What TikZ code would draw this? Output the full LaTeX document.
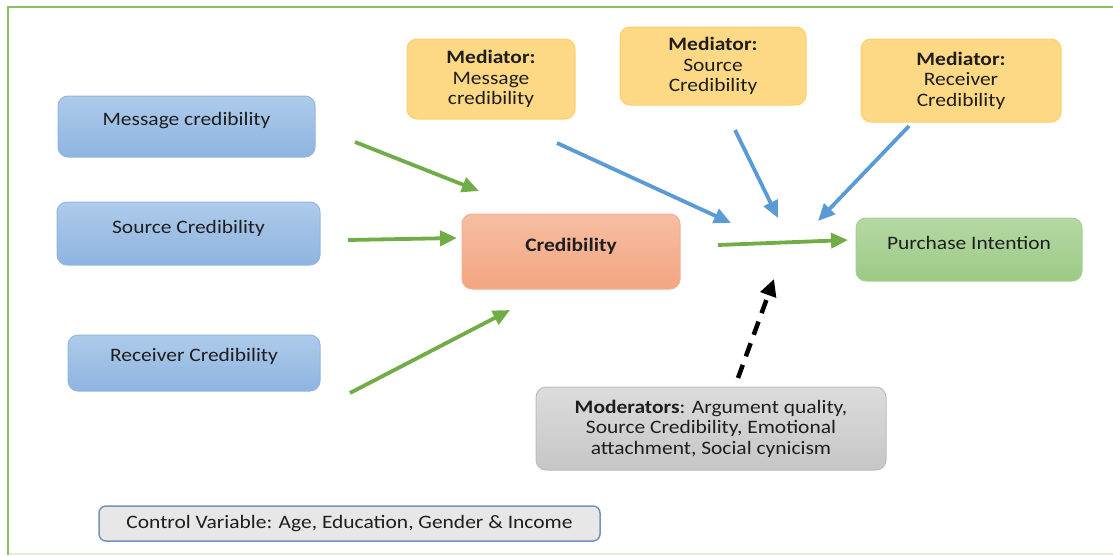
\documentclass[tikz,border=0pt]{standalone}
\usepackage{fontspec}
\setmainfont[FakeStretch=1.13]{Carlito}
\usetikzlibrary{arrows.meta}
\definecolor{frameGreen}{HTML}{8CC068}
\definecolor{frameFaint}{HTML}{E2EFDA}
\definecolor{blueTop}{HTML}{AECBEA}
\definecolor{blueBot}{HTML}{8EB4E0}
\definecolor{blueEdge}{HTML}{94B6DE}
\definecolor{orangeFill}{HTML}{FED985}
\definecolor{orangeEdge}{HTML}{FCCF6A}
\definecolor{salmonTop}{HTML}{F5BEA3}
\definecolor{salmonBot}{HTML}{F4A580}
\definecolor{salmonEdge}{HTML}{F2B091}
\definecolor{greenTop}{HTML}{B5D8A4}
\definecolor{greenBot}{HTML}{9CCA85}
\definecolor{greenEdge}{HTML}{A6CF92}
\definecolor{greyTop}{HTML}{DCDCDC}
\definecolor{greyBot}{HTML}{C6C6C6}
\definecolor{greyEdge}{HTML}{BDBDBD}
\definecolor{ctrlFill}{HTML}{E7E7E7}
\definecolor{ctrlEdge}{HTML}{7393B8}
\definecolor{arrGreen}{HTML}{70AD47}
\definecolor{arrBlue}{HTML}{5B9BD5}
\definecolor{ink}{HTML}{1E1E1E}
\tikzset{
  x=1pt, y=-1pt,
  every node/.style={font=\fontsize{19}{20.5}\selectfont, text=ink},
  boxbase/.style={rounded corners=10pt, inner sep=0pt, line width=1pt},
  bluebox/.style={boxbase, draw=blueEdge, top color=blueTop, bottom color=blueBot},
  medbox/.style={boxbase, draw=orangeEdge, fill=orangeFill, align=center},
  credbox/.style={boxbase, draw=salmonEdge, top color=salmonTop, bottom color=salmonBot},
  outbox/.style={boxbase, draw=greenEdge, top color=greenTop, bottom color=greenBot},
  modbox/.style={boxbase, draw=greyEdge, top color=greyTop, bottom color=greyBot, align=center},
  ctrlbox/.style={boxbase, rounded corners=7pt, draw=ctrlEdge, line width=1.5pt, fill=ctrlFill},
  lbl/.style={inner sep=0pt},
  greenarrow/.style={draw=arrGreen, line width=3.8pt, -{Triangle[length=17pt,width=15pt]}},
  bluearrow/.style={draw=arrBlue, line width=3.8pt, -{Triangle[length=17pt,width=15pt]}},
  modarrow/.style={draw=black, line width=4.5pt, dash pattern=on 14pt off 9pt, -{Triangle[length=17pt,width=16pt]}}
}
\begin{document}
\begin{tikzpicture}
\useasboundingbox (0,0) rectangle (1113,555);
% outer frame
\draw[frameFaint, line width=1.5pt] (8,554) -- (1113,554);
\draw[frameGreen, line width=2pt] (1113,7) -- (8,7) -- (8,555);

% antecedent boxes
\node[bluebox, minimum width=257pt, minimum height=61pt] (msg) at (186.5,126.5) {};
\node[lbl] (msgT) at (186.5,121) {Message credibility};
\node[bluebox, minimum width=263pt, minimum height=63pt] (src) at (188.5,233.5) {};
\node[lbl] (srcT) at (188.5,228) {Source Credibility};
\node[bluebox, minimum width=252pt, minimum height=56pt] (rcv) at (194,363) {};
\node[lbl] (rcvT) at (194,356) {Receiver Credibility};

% mediator boxes
\node[medbox, minimum width=168pt, minimum height=80pt] (medM) at (491,79)
  {\textbf{Mediator:}\\Message\\credibility};
\node[medbox, minimum width=186pt, minimum height=78pt] (medS) at (713,66)
  {\textbf{Mediator:}\\Source\\Credibility};
\node[medbox, minimum width=200pt, minimum height=83pt] (medR) at (961,80.5)
  {\textbf{Mediator:}\\Receiver\\Credibility};

% central construct and outcome
\node[credbox, minimum width=218pt, minimum height=75pt] (cred) at (571,251.5) {};
\node[lbl, font=\fontsize{19}{20.5}\selectfont\bfseries] (credT) at (571,246) {Credibility};
\node[outbox, minimum width=226pt, minimum height=63pt] (pi) at (969,249.5) {};
\node[lbl] (piT) at (969,243) {Purchase Intention};

% moderators and controls
\node[modbox, minimum width=350pt, minimum height=83pt] (mod) at (711,428.5)
  {\textbf{Moderators}: Argument quality,\\Source Credibility, Emotional\\attachment, Social cynicism};
\node[ctrlbox, minimum width=501pt, minimum height=35pt] (ctrl) at (349.5,523.5)
  {Control Variable: Age, Education, Gender \& Income};

% arrow end points
\coordinate (msgOut) at (355,142);
\coordinate (msgIn) at (479,191);
\coordinate (srcOut) at (348,240);
\coordinate (srcIn) at (457,238);
\coordinate (rcvOut) at (350,393);
\coordinate (rcvIn) at (510,310);
\coordinate (credOut) at (718,245);
\coordinate (piIn) at (848,240);
\coordinate (medMOut) at (557,143);
\coordinate (medMIn) at (731,223);
\coordinate (medSOut) at (735,130);
\coordinate (medSIn) at (778,218);
\coordinate (medROut) at (909,126);
\coordinate (medRIn) at (818,221);
\coordinate (modOut) at (738,378);
\coordinate (modIn) at (774,279);

% paths to credibility
\draw[greenarrow] (msgOut) -- (msgIn);
\draw[greenarrow] (srcOut) -- (srcIn);
\draw[greenarrow] (rcvOut) -- (rcvIn);
\draw[greenarrow] (credOut) -- (piIn);

% mediator paths
\draw[bluearrow] (medMOut) -- (medMIn);
\draw[bluearrow] (medSOut) -- (medSIn);
\draw[bluearrow] (medROut) -- (medRIn);

% moderating effect
\draw[modarrow] (modOut) -- (modIn);
\end{tikzpicture}
\end{document}
